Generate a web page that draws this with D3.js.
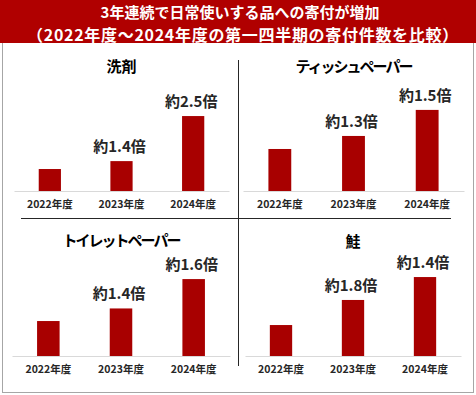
<!DOCTYPE html>
<html>
<head>
<meta charset="utf-8">
<script src="https://cdn.jsdelivr.net/npm/d3@7"></script>
<style>
  body { margin: 0; background: #fff; }
  text { font-family: "Noto Sans CJK JP", "Noto Sans", sans-serif; font-weight: bold; }
</style>
</head>
<body>
<svg id="chart" width="476" height="395"></svg>
<script>
'use strict';

// data
var titleLines = ['3年連続で日常使いする品への寄付が増加', '（2022年度～2024年度の第一四半期の寄付件数を比較）'];
var years = ['2022年度', '2023年度', '2024年度'];
var items = ['洗剤', 'ティッシュペーパー', 'トイレットペーパー', '鮭'];
//件数 indexed to 2022年度 = 100
var detergent = [100, 136, 341];
var tissue = [100, 131, 193];
var toilet = [100, 136, 220];
var salmon = [100, 181, 255];
var detergentLabels = ['', '約1.4倍', '約2.5倍'];
var tissueLabels = ['', '約1.3倍', '約1.5倍'];
var toiletLabels = ['', '約1.4倍', '約1.6倍'];
var salmonLabels = ['', '約1.8倍', '約1.4倍'];
var yMax = [455, 238, 286, 323];

var seriesList = [detergent, tissue, toilet, salmon];
var labelList = [detergentLabels, tissueLabels, toiletLabels, salmonLabels];

// layout of the four panels
var panels = [
  {x0: 14, x1: 229, base: 191, titleY: 72},
  {x0: 243, x1: 464, base: 191, titleY: 72},
  {x0: 12, x1: 230, base: 356, titleY: 246},
  {x0: 245, x1: 461, base: 356, titleY: 247}
];
var plotH = 100;
var red = '#a80000';

var svg = d3.select('#chart');

// outer frame
svg.append('rect')
  .attr('x', 2.5).attr('y', 40.5).attr('width', 471).attr('height', 352)
  .attr('fill', 'none').attr('stroke', '#a6a6a6').attr('stroke-width', 1);

// title bar
svg.append('rect')
  .attr('x', 0).attr('y', 0).attr('width', 476).attr('height', 43)
  .attr('fill', '#b00000');
svg.append('text')
  .attr('x', 240).attr('y', 17.5)
  .attr('text-anchor', 'middle').attr('fill', '#fff')
  .style('font-size', '15px')
  .text(titleLines[0]);
svg.append('text')
  .attr('x', 243).attr('y', 40.5)
  .attr('text-anchor', 'middle').attr('fill', '#fff')
  .style('font-size', '16px')
  .style('letter-spacing', '0.7px')
  .text(titleLines[1]);

// dividers
svg.append('line')
  .attr('x1', 238.5).attr('x2', 238.5).attr('y1', 60).attr('y2', 366)
  .attr('stroke', '#262626').attr('stroke-width', 1);
svg.append('line')
  .attr('x1', 21).attr('x2', 451).attr('y1', 218.5).attr('y2', 218.5)
  .attr('stroke', '#262626').attr('stroke-width', 1);

panels.forEach(function(p, i) {
  var vals = seriesList[i];
  var labs = labelList[i];
  var g = svg.append('g');

  var x = d3.scaleBand().domain(years).range([p.x0, p.x1])
    .paddingInner(0.69).paddingOuter(0.345);
  var y = d3.scaleLinear().domain([0, yMax[i]]).range([p.base, p.base - plotH]);

  // panel title (katakana titles are set tighter, like the original font)
  g.append('text')
    .attr('x', (p.x0 + p.x1) / 2).attr('y', p.titleY)
    .attr('text-anchor', 'middle').attr('fill', '#000')
    .style('font-size', '15px')
    .style('letter-spacing', items[i].length > 2 ? '-2px' : '0px')
    .text(items[i]);

  // bars
  g.selectAll('rect.bar').data(vals)
    .enter()
    .append('rect')
    .attr('class', 'bar')
    .attr('x', function(d, j) { return x(years[j]); })
    .attr('width', x.bandwidth())
    .attr('y', function(d) { return y(d); })
    .attr('height', function(d) { return y(0) - y(d); })
    .attr('fill', red);

  // baseline + year labels
  var axis = d3.axisBottom(x).tickSize(0).tickPadding(10);
  var ag = g.append('g').attr('transform', 'translate(0,' + p.base + ')').call(axis);
  ag.select('.domain').attr('stroke', '#d9d9d9');
  ag.selectAll('text')
    .attr('fill', '#262626')
    .style('font-size', '10.5px')
    .style('font-family', '"Noto Sans CJK JP", sans-serif')
    .style('font-weight', 'bold');

  // growth labels
  g.selectAll('text.lab').data(vals)
    .enter()
    .append('text')
    .attr('class', 'lab')
    .attr('x', function(d, j) { return x(years[j]) + x.bandwidth() / 2 - 2; })
    .attr('y', function(d) { return y(d) - 9; })
    .attr('text-anchor', 'middle').attr('fill', '#262626')
    .style('font-size', '15px')
    .text(function(d, j) { return labs[j]; });
});
</script>
</body>
</html>
